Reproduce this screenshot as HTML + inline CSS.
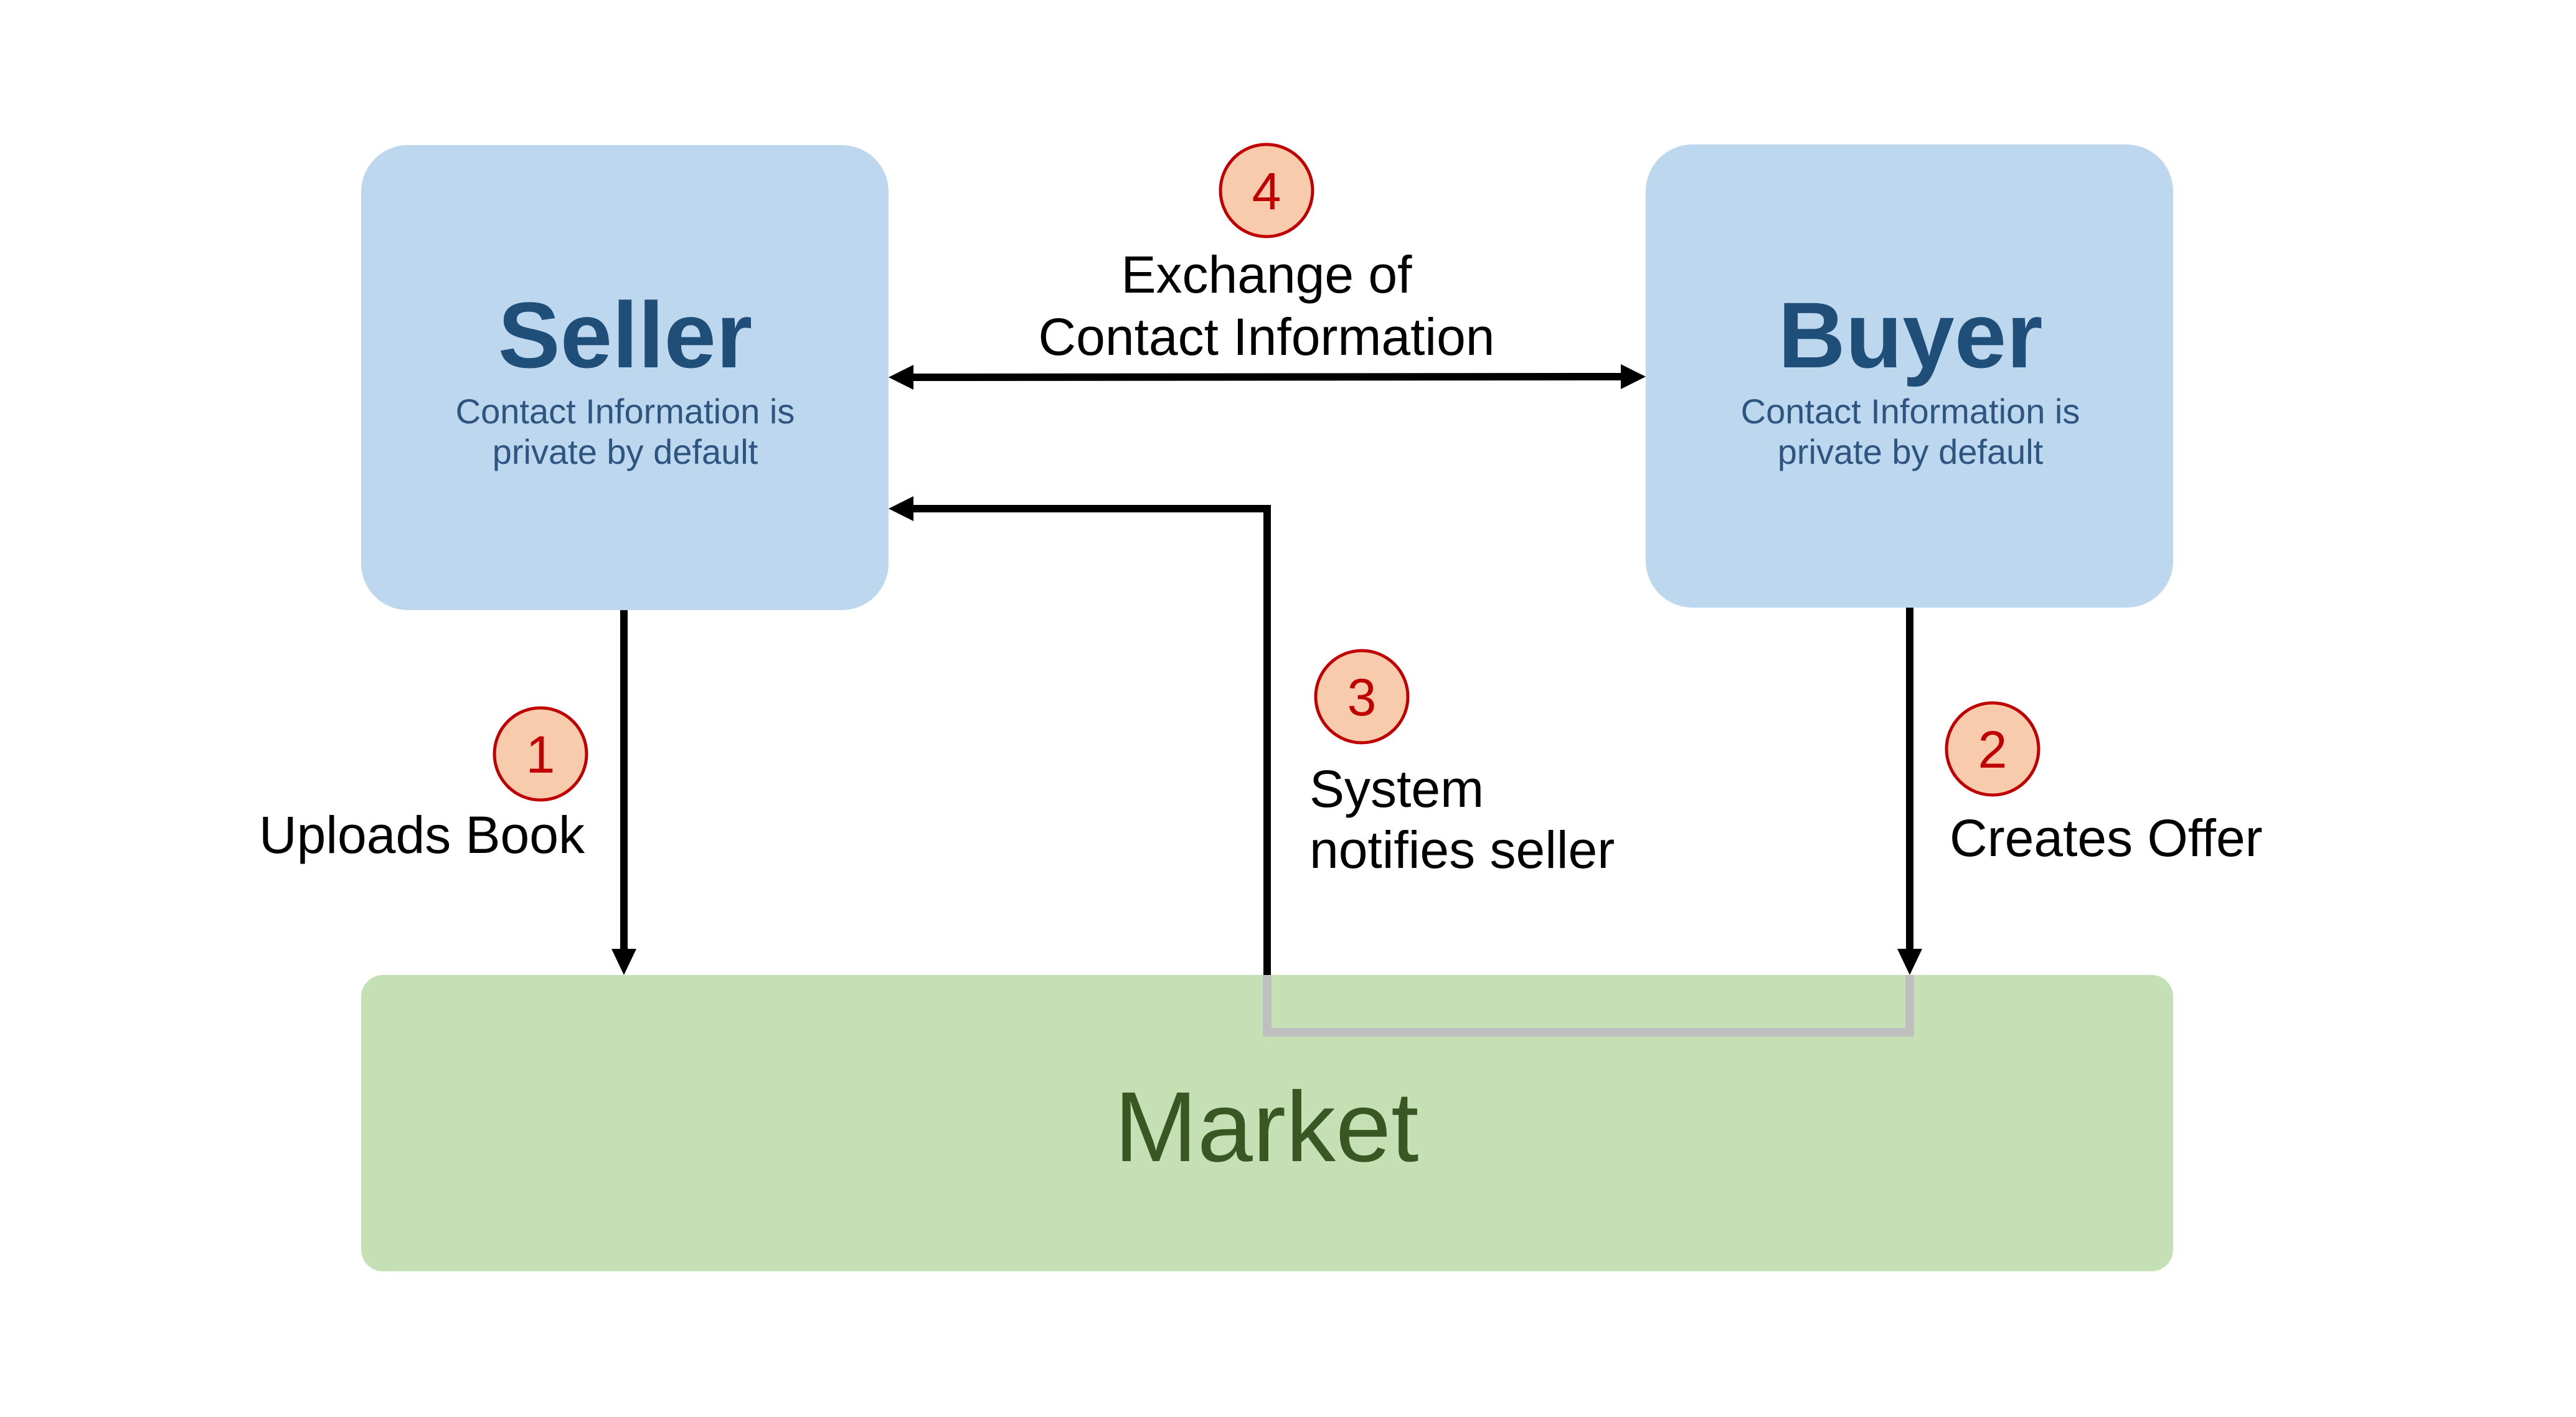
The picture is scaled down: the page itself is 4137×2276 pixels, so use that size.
<!DOCTYPE html>
<html><head><meta charset="utf-8"><style>html,body{margin:0;padding:0;background:#fff}svg{display:block}</style></head>
<body>
<svg width="4137" height="2276" viewBox="0 0 4137 2276" xmlns="http://www.w3.org/2000/svg" font-family="Liberation Sans, DejaVu Sans, sans-serif">
<rect width="4137" height="2276" fill="#fff"/>
<rect x="580" y="233" width="847" height="747" rx="75" fill="#bdd7ee"/>
<rect x="2643" y="232" width="847" height="744" rx="75" fill="#bdd7ee"/>
<rect x="580" y="1566" width="2910" height="476" rx="35" fill="#c5e0b4"/>
<polyline points="2035,1566 2035,1658 3067,1658 3067,1566" fill="none" stroke="#bfbfbf" stroke-width="14"/>
<g stroke="#000" stroke-width="12" fill="none">
<line x1="1465" y1="606" x2="2605" y2="605"/>
<polyline points="2035,1566 2035,817 1465,817"/>
<line x1="1002" y1="980" x2="1002" y2="1528"/>
<line x1="3067" y1="976" x2="3067" y2="1528"/>
</g>
<g fill="#000">
<polygon points="1427,606 1467,586 1467,626"/>
<polygon points="2643,605 2603,585 2603,625"/>
<polygon points="1427,817 1467,797 1467,837"/>
<polygon points="1002,1566 982,1524 1022,1524"/>
<polygon points="3067,1566 3047,1524 3087,1524"/>
</g>
<g text-anchor="middle">
<text x="1004" y="590" font-size="150" font-weight="bold" fill="#1f4e79">Seller</text>
<text x="1004" y="680" font-size="56" fill="#2e5580">Contact Information is</text>
<text x="1004" y="745" font-size="56" fill="#2e5580">private by default</text>
<text x="3068" y="590" font-size="150" font-weight="bold" fill="#1f4e79">Buyer</text>
<text x="3068" y="680" font-size="56" fill="#2e5580">Contact Information is</text>
<text x="3068" y="745" font-size="56" fill="#2e5580">private by default</text>
<text x="2034" y="1865" font-size="160" fill="#385723">Market</text>
<text x="2034" y="470" font-size="84" fill="#000">Exchange of</text>
<text x="2034" y="570" font-size="84" fill="#000">Contact Information</text>
</g>
<text x="939" y="1370" font-size="84" text-anchor="end">Uploads Book</text>
<text x="2103" y="1296" font-size="84">System</text>
<text x="2103" y="1394" font-size="84">notifies seller</text>
<text x="3131" y="1375" font-size="84">Creates Offer</text>
<g fill="#f8cbad" stroke="#c00000" stroke-width="5">
<circle cx="2034" cy="306" r="74"/>
<circle cx="868" cy="1211" r="74"/>
<circle cx="2187" cy="1119" r="74"/>
<circle cx="3200" cy="1203" r="74"/>
</g>
<g fill="#c00000" font-size="84" text-anchor="middle">
<text x="2034" y="336">4</text>
<text x="868" y="1241">1</text>
<text x="2187" y="1149">3</text>
<text x="3200" y="1233">2</text>
</g>
</svg>
</body></html>
